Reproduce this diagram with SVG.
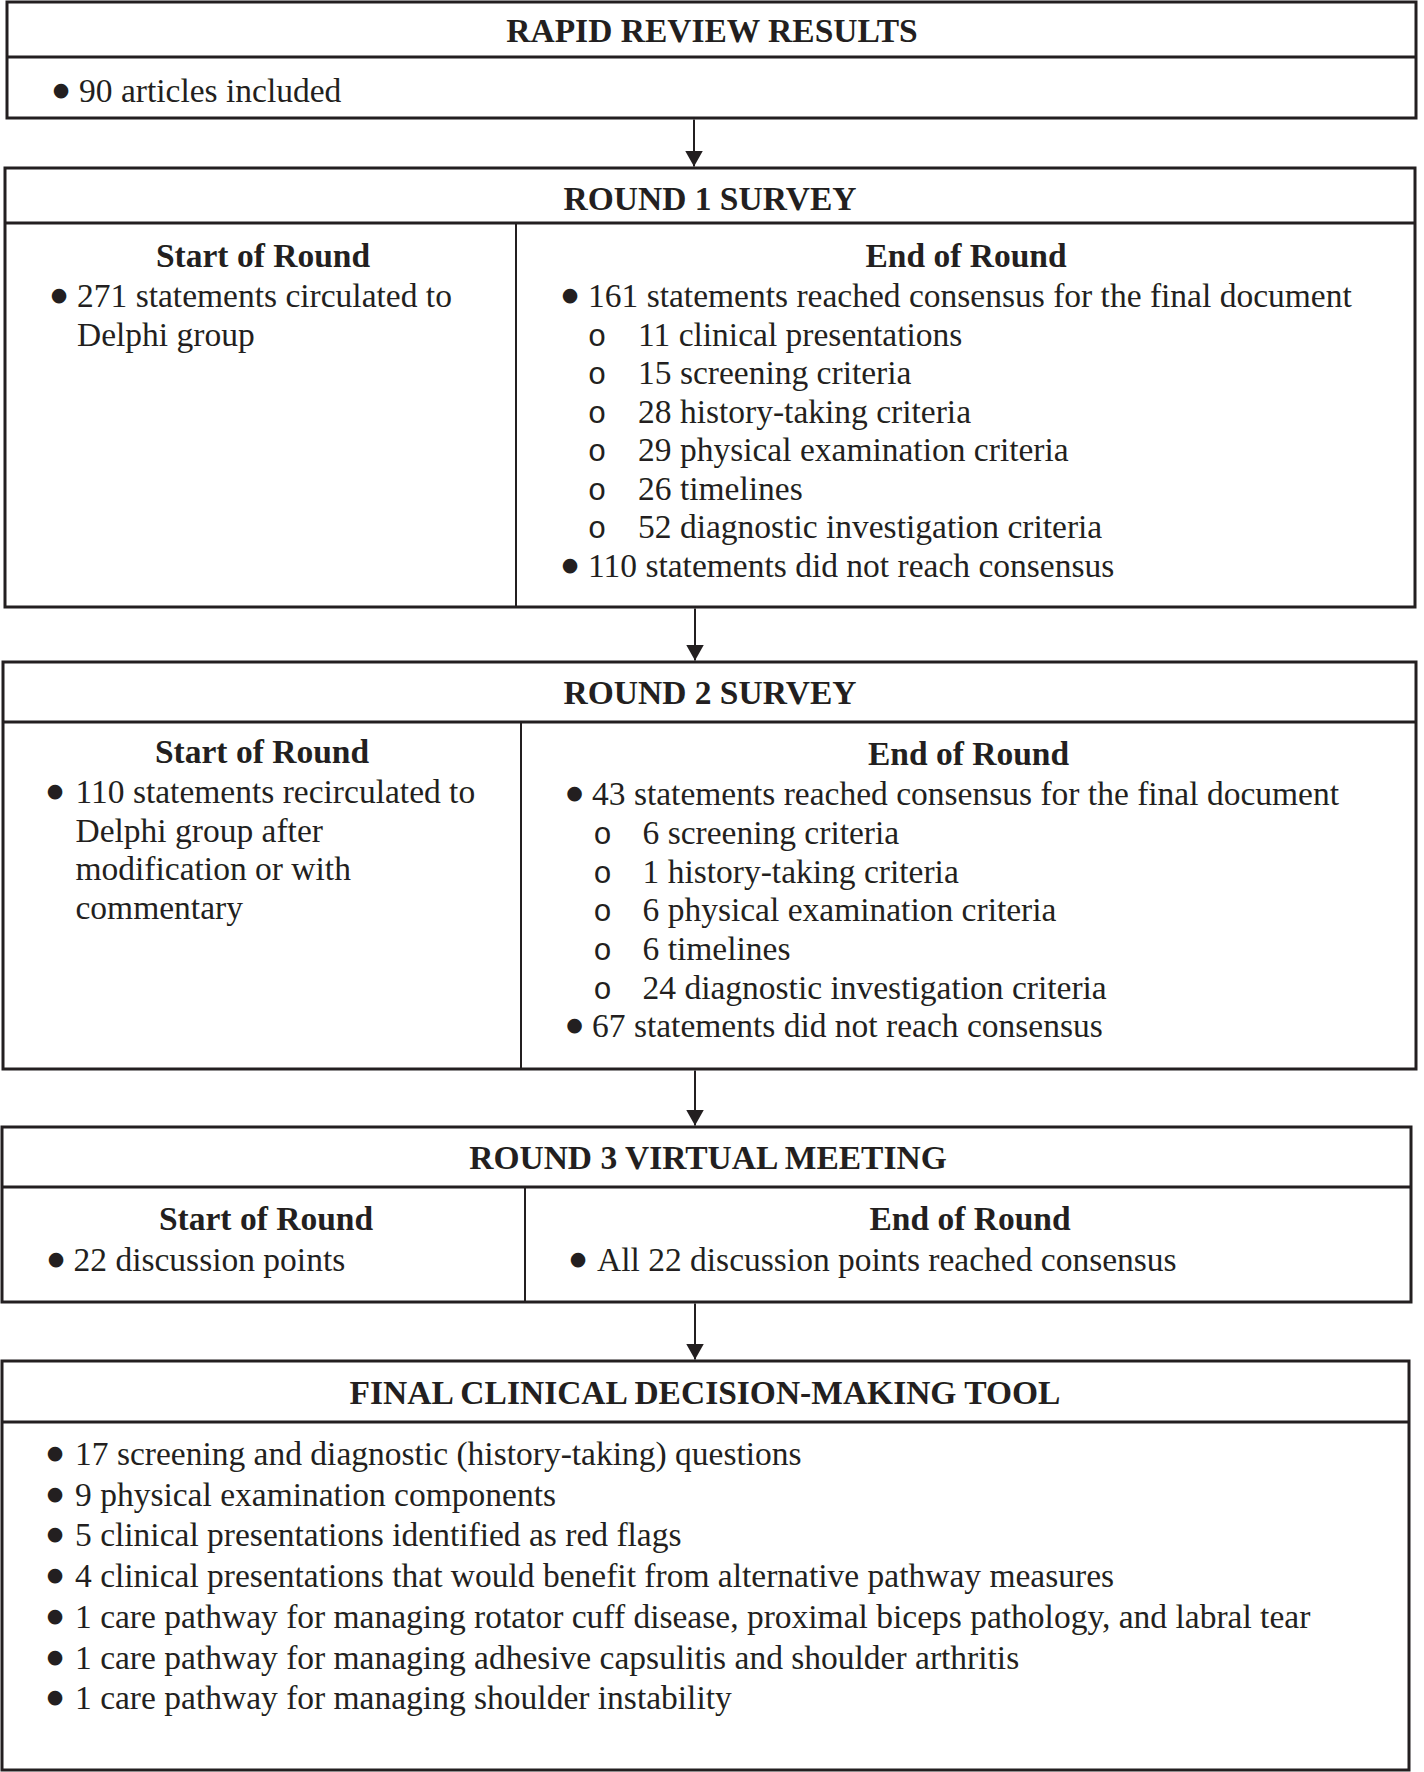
<svg xmlns="http://www.w3.org/2000/svg" width="1424" height="1772" viewBox="0 0 1424 1772">
<style>
.box{fill:#fff;stroke:#231f20;stroke-width:3}
.hd{stroke:#231f20;stroke-width:3}
.col{stroke:#231f20;stroke-width:2}
.t{font-family:"Liberation Serif","Times New Roman",serif;font-size:33.5px;fill:#231f20}
.b{font-weight:bold}
.m{text-anchor:middle}
.d{font-family:"DejaVu Sans",sans-serif;font-size:19px;fill:#231f20;text-anchor:middle}
.o{font-family:"Liberation Mono","Courier New",monospace;font-size:31px;fill:#231f20;text-anchor:middle}
.conn{stroke:#231f20;stroke-width:2;fill:none}
</style>
<defs>
<marker id="ah" markerUnits="userSpaceOnUse" markerWidth="16" markerHeight="18" viewBox="0 0 16 18" refX="16" refY="9" orient="auto">
<path d="M0,0 L16,9 L0,18 z" fill="#231f20"/>
</marker>
</defs>
<rect width="1424" height="1772" fill="#fff"/>

<g id="connectors">
<line class="conn" x1="694" y1="119.5" x2="694" y2="166.5" marker-end="url(#ah)"/>
<line class="conn" x1="695" y1="608.5" x2="695" y2="660.5" marker-end="url(#ah)"/>
<line class="conn" x1="695" y1="1070.5" x2="695" y2="1125.5" marker-end="url(#ah)"/>
<line class="conn" x1="695" y1="1303.5" x2="695" y2="1359.5" marker-end="url(#ah)"/>
</g>

<g id="rapid-review">
<rect class="box" x="7" y="2" width="1409" height="116"/>
<line class="hd" x1="7" y1="57" x2="1416" y2="57"/>
<text class="t b m" x="712" y="42">RAPID REVIEW RESULTS</text>
<text class="d" x="61" y="96">●</text>
<text class="t" x="79" y="102">90 articles included</text>
</g>

<g id="round1">
<rect class="box" x="5" y="168" width="1410" height="439"/>
<line class="hd" x1="5" y1="223" x2="1415" y2="223"/>
<line class="col" x1="516" y1="223" x2="516" y2="607"/>
<text class="t b m" x="710" y="210">ROUND 1 SURVEY</text>
<text class="t b m" x="263" y="267">Start of Round</text>
<text class="d" x="59" y="301">●</text>
<text class="t" x="77" y="307">271 statements circulated to</text>
<text class="t" x="77" y="345.5">Delphi group</text>
<text class="t b m" x="966" y="267">End of Round</text>
<text class="d" x="570" y="301">●</text>
<text class="t" x="588" y="307">161 statements reached consensus for the final document</text>
<text class="o" x="597" y="345.5">o</text>
<text class="t" x="638" y="345.5">11 clinical presentations</text>
<text class="o" x="597" y="384">o</text>
<text class="t" x="638" y="384">15 screening criteria</text>
<text class="o" x="597" y="422.5">o</text>
<text class="t" x="638" y="422.5">28 history-taking criteria</text>
<text class="o" x="597" y="461">o</text>
<text class="t" x="638" y="461">29 physical examination criteria</text>
<text class="o" x="597" y="499.5">o</text>
<text class="t" x="638" y="499.5">26 timelines</text>
<text class="o" x="597" y="538">o</text>
<text class="t" x="638" y="538">52 diagnostic investigation criteria</text>
<text class="d" x="570" y="571">●</text>
<text class="t" x="588" y="577">110 statements did not reach consensus</text>
</g>

<g id="round2">
<rect class="box" x="3" y="662" width="1413" height="407"/>
<line class="hd" x1="3" y1="722" x2="1416" y2="722"/>
<line class="col" x1="521" y1="722" x2="521" y2="1069"/>
<text class="t b m" x="710" y="704">ROUND 2 SURVEY</text>
<text class="t b m" x="262" y="763">Start of Round</text>
<text class="d" x="55" y="797">●</text>
<text class="t" x="75.5" y="803">110 statements recirculated to</text>
<text class="t" x="75.5" y="841.5">Delphi group after</text>
<text class="t" x="75.5" y="880">modification or with</text>
<text class="t" x="75.5" y="918.5">commentary</text>
<text class="t b m" x="968.5" y="765">End of Round</text>
<text class="d" x="574.5" y="799">●</text>
<text class="t" x="592" y="805">43 statements reached consensus for the final document</text>
<text class="o" x="602.5" y="844">o</text>
<text class="t" x="642.5" y="844">6 screening criteria</text>
<text class="o" x="602.5" y="883">o</text>
<text class="t" x="642.5" y="883">1 history-taking criteria</text>
<text class="o" x="602.5" y="921">o</text>
<text class="t" x="642.5" y="921">6 physical examination criteria</text>
<text class="o" x="602.5" y="960">o</text>
<text class="t" x="642.5" y="960">6 timelines</text>
<text class="o" x="602.5" y="998.5">o</text>
<text class="t" x="642.5" y="998.5">24 diagnostic investigation criteria</text>
<text class="d" x="574.5" y="1031">●</text>
<text class="t" x="592" y="1037">67 statements did not reach consensus</text>
</g>

<g id="round3">
<rect class="box" x="2" y="1127" width="1409" height="175"/>
<line class="hd" x1="2" y1="1187" x2="1411" y2="1187"/>
<line class="col" x1="525" y1="1187" x2="525" y2="1302"/>
<text class="t b m" x="708" y="1169">ROUND 3 VIRTUAL MEETING</text>
<text class="t b m" x="266" y="1230">Start of Round</text>
<text class="d" x="56" y="1265">●</text>
<text class="t" x="73.5" y="1271">22 discussion points</text>
<text class="t b m" x="970" y="1230">End of Round</text>
<text class="d" x="578" y="1265">●</text>
<text class="t" x="597" y="1271">All 22 discussion points reached consensus</text>
</g>

<g id="final-tool">
<rect class="box" x="2" y="1361" width="1407" height="409"/>
<line class="hd" x1="2" y1="1422" x2="1409" y2="1422"/>
<text class="t b m" x="705" y="1404">FINAL CLINICAL DECISION-MAKING TOOL</text>
<text class="d" x="55" y="1459">●</text>
<text class="t" x="75" y="1465">17 screening and diagnostic (history-taking) questions</text>
<text class="d" x="55" y="1499.5">●</text>
<text class="t" x="75" y="1505.5">9 physical examination components</text>
<text class="d" x="55" y="1540">●</text>
<text class="t" x="75" y="1546">5 clinical presentations identified as red flags</text>
<text class="d" x="55" y="1581">●</text>
<text class="t" x="75" y="1587">4 clinical presentations that would benefit from alternative pathway measures</text>
<text class="d" x="55" y="1622">●</text>
<text class="t" x="75" y="1628">1 care pathway for managing rotator cuff disease, proximal biceps pathology, and labral tear</text>
<text class="d" x="55" y="1662.5">●</text>
<text class="t" x="75" y="1668.5">1 care pathway for managing adhesive capsulitis and shoulder arthritis</text>
<text class="d" x="55" y="1703">●</text>
<text class="t" x="75" y="1709">1 care pathway for managing shoulder instability</text>
</g>
</svg>
